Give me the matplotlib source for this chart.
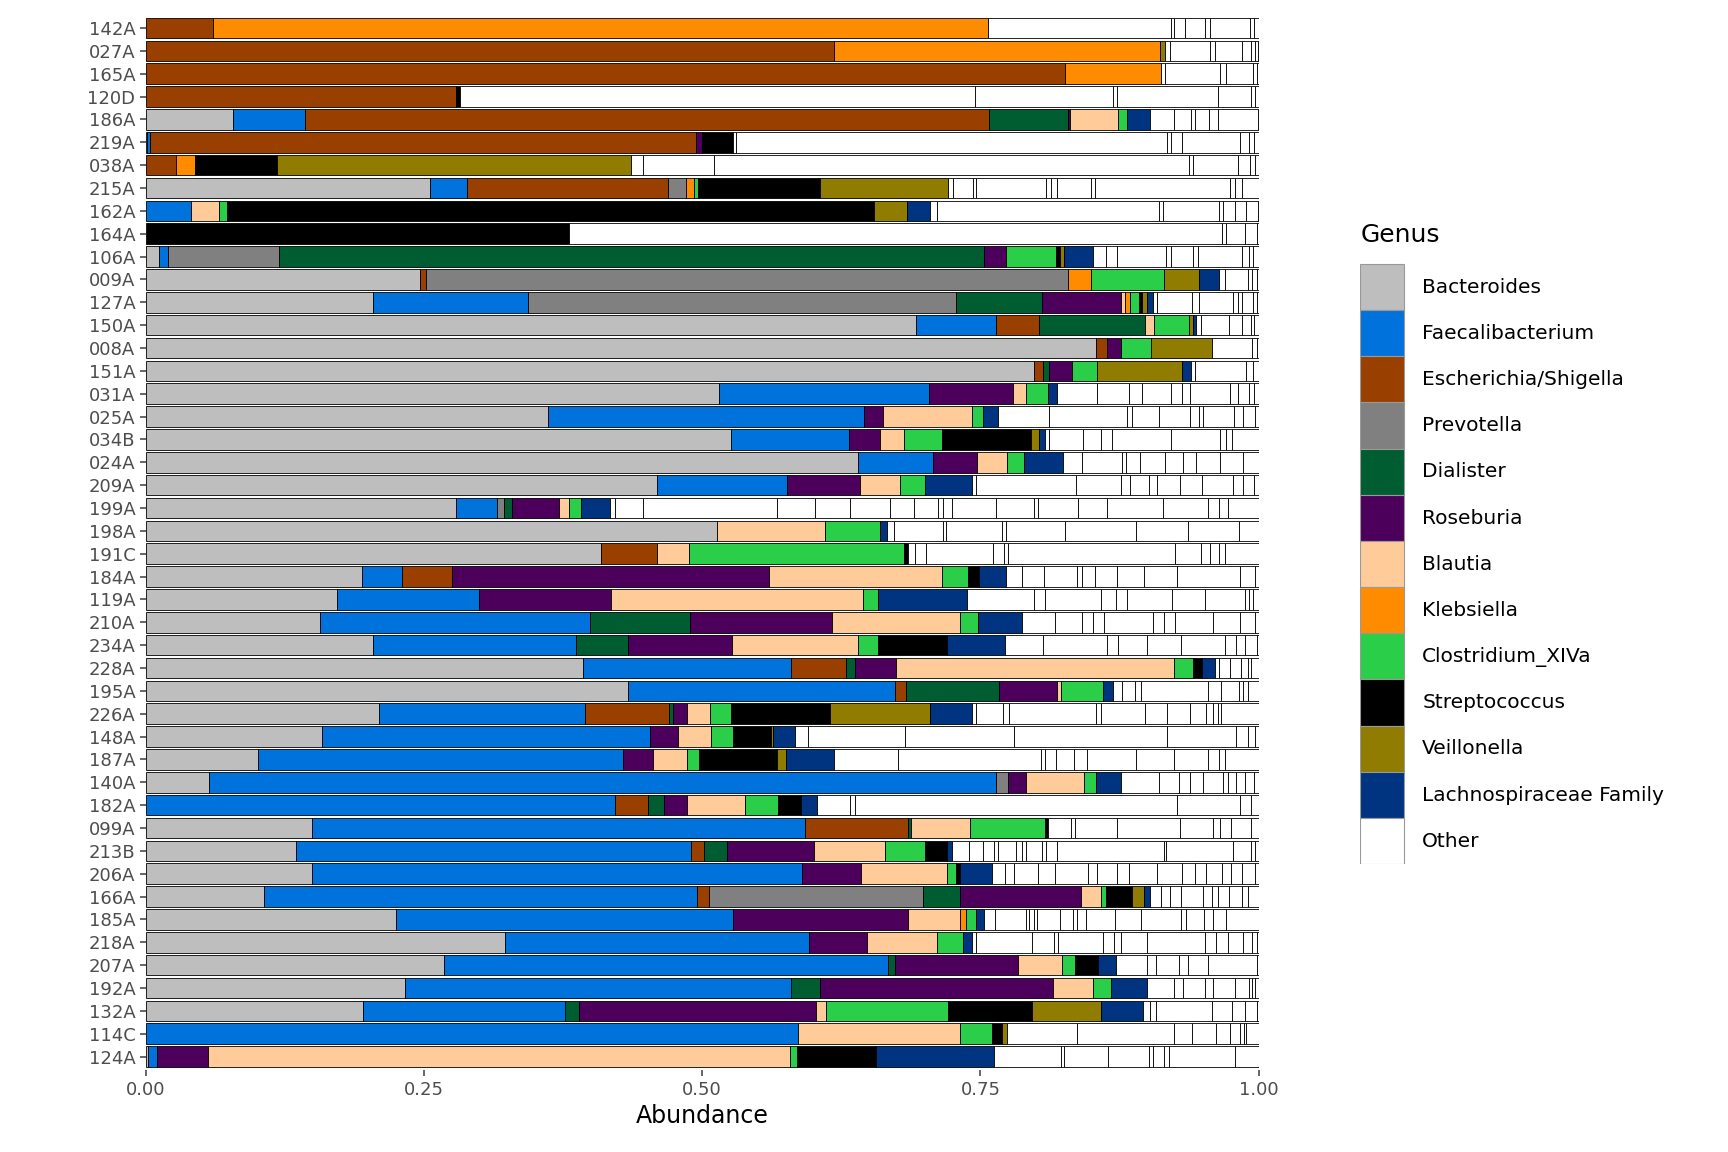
import matplotlib.pyplot as plt
from matplotlib.patches import Rectangle

samples = ['142A', '027A', '165A', '120D', '186A', '219A', '038A', '215A', '162A', '164A',
           '106A', '009A', '127A', '150A', '008A', '151A', '031A', '025A', '034B', '024A',
           '209A', '199A', '198A', '191C', '184A', '119A', '210A', '234A', '228A', '195A',
           '226A', '148A', '187A', '140A', '182A', '099A', '213B', '206A', '166A', '185A',
           '218A', '207A', '192A', '132A', '114C', '124A']

genera = ['Bacteroides', 'Faecalibacterium', 'Escherichia/Shigella', 'Prevotella', 'Dialister',
          'Roseburia', 'Blautia', 'Klebsiella', 'Clostridium_XIVa', 'Streptococcus',
          'Veillonella', 'Lachnospiraceae Family', 'Other']

colors = ['#bebebe', '#0072db', '#993f00', '#808080', '#005c31', '#4c005c', '#ffcc99',
          '#ff8c00', '#2bce48', '#000000', '#8f7c00', '#003380', '#ffffff']

# abundance per genus, order as in `genera` (without Other)
#           Bac    Fae    Esc    Pre    Dia    Ros    Bla    Kle    Clo    Str    Vei    Lac
abund = {
    '142A': [0,     0,     0.060, 0,     0,     0,     0,     0.697, 0,     0,     0,     0],
    '027A': [0,     0,     0.618, 0,     0,     0,     0,     0.293, 0,     0,     0.005, 0],
    '165A': [0,     0,     0.826, 0,     0,     0,     0,     0.086, 0,     0,     0,     0],
    '120D': [0,     0,     0.279, 0,     0,     0,     0,     0,     0,     0.003, 0,     0],
    '186A': [0.078, 0.065, 0.615, 0,     0.071, 0.001, 0.044, 0,     0.008, 0,     0,     0.020],
    '219A': [0.001, 0.003, 0.490, 0,     0,     0.006, 0,     0,     0,     0.028, 0,     0],
    '038A': [0,     0,     0.027, 0,     0,     0,     0,     0.017, 0,     0.074, 0.318, 0],
    '215A': [0.255, 0.034, 0.180, 0.016, 0,     0,     0,     0.008, 0.003, 0.110, 0.115, 0],
    '162A': [0,     0.041, 0,     0,     0,     0,     0.025, 0,     0.007, 0.581, 0.030, 0.021],
    '164A': [0,     0,     0.001, 0,     0,     0,     0,     0,     0,     0.379, 0,     0],
    '106A': [0.012, 0.008, 0,     0.100, 0.633, 0.020, 0,     0,     0.045, 0.003, 0.004, 0.026],
    '009A': [0.246, 0,     0.006, 0.577, 0,     0,     0,     0.020, 0.066, 0,     0.031, 0.018],
    '127A': [0.204, 0.139, 0,     0.385, 0.077, 0.071, 0.004, 0.004, 0.008, 0.003, 0.005, 0.005],
    '150A': [0.692, 0.072, 0.039, 0,     0.095, 0,     0.008, 0,     0.031, 0,     0.004, 0.003],
    '008A': [0.854, 0,     0.010, 0,     0,     0.012, 0,     0,     0.027, 0,     0.055, 0],
    '151A': [0.798, 0,     0.008, 0,     0.006, 0.020, 0,     0,     0.023, 0,     0.076, 0.008],
    '031A': [0.515, 0.189, 0,     0,     0,     0.075, 0.012, 0,     0.020, 0,     0,     0.008],
    '025A': [0.361, 0.284, 0,     0,     0,     0.017, 0.080, 0,     0.010, 0,     0,     0.014],
    '034B': [0.526, 0.106, 0,     0,     0,     0.028, 0.021, 0,     0.034, 0.080, 0.008, 0.005],
    '024A': [0.640, 0.067, 0,     0,     0,     0.040, 0.027, 0,     0.015, 0,     0,     0.035],
    '209A': [0.459, 0.117, 0,     0,     0,     0.066, 0.036, 0,     0.022, 0,     0,     0.042],
    '199A': [0.279, 0.037, 0,     0.006, 0.007, 0.042, 0.009, 0,     0.011, 0,     0,     0.026],
    '198A': [0.513, 0,     0,     0,     0,     0,     0.097, 0,     0.050, 0,     0,     0.006],
    '191C': [0.409, 0,     0.050, 0,     0,     0,     0.029, 0,     0.193, 0.004, 0,     0],
    '184A': [0.194, 0.036, 0.045, 0,     0,     0.285, 0.155, 0,     0.024, 0.010, 0,     0.024],
    '119A': [0.172, 0.127, 0,     0,     0,     0.119, 0.226, 0,     0.014, 0,     0,     0.080],
    '210A': [0.157, 0.242, 0,     0,     0.090, 0.128, 0.115, 0,     0.016, 0,     0,     0.039],
    '234A': [0.204, 0.183, 0,     0,     0.046, 0.094, 0.113, 0,     0.018, 0.062, 0,     0.052],
    '228A': [0.393, 0.187, 0.049, 0,     0.008, 0.037, 0.250, 0,     0.017, 0.008, 0,     0.012],
    '195A': [0.433, 0.240, 0.010, 0,     0.084, 0.052, 0.003, 0,     0.038, 0,     0,     0.009],
    '226A': [0.210, 0.185, 0.075, 0,     0.004, 0.012, 0.021, 0,     0.019, 0.089, 0.090, 0.037],
    '148A': [0.158, 0.295, 0,     0,     0,     0.025, 0.030, 0,     0.020, 0.034, 0.002, 0.019],
    '187A': [0.101, 0.328, 0,     0,     0,     0.027, 0.030, 0,     0.011, 0.070, 0.008, 0.043],
    '140A': [0.057, 0.707, 0,     0.011, 0,     0.016, 0.052, 0,     0.011, 0,     0,     0.022],
    '182A': [0,     0.422, 0.029, 0,     0.015, 0.020, 0.052, 0,     0.030, 0.021, 0,     0.014],
    '099A': [0.149, 0.443, 0.093, 0,     0.003, 0,     0.053, 0,     0.067, 0.003, 0,     0],
    '213B': [0.135, 0.355, 0.012, 0,     0.020, 0.078, 0.064, 0,     0.036, 0.020, 0,     0.004],
    '206A': [0.149, 0.441, 0,     0,     0,     0.053, 0.077, 0,     0.008, 0.004, 0,     0.028],
    '166A': [0.106, 0.389, 0.011, 0.192, 0.034, 0.108, 0.018, 0,     0.005, 0.023, 0.011, 0.005],
    '185A': [0.225, 0.303, 0,     0,     0,     0.157, 0.047, 0.005, 0.009, 0,     0,     0.007],
    '218A': [0.323, 0.273, 0,     0,     0,     0.052, 0.063, 0,     0.023, 0,     0,     0.008],
    '207A': [0.268, 0.399, 0,     0,     0.006, 0.111, 0.039, 0,     0.012, 0.021, 0,     0.016],
    '192A': [0.233, 0.347, 0,     0,     0.026, 0.209, 0.036, 0,     0.016, 0,     0,     0.033],
    '132A': [0.195, 0.182, 0,     0,     0.012, 0.213, 0.009, 0,     0.110, 0.075, 0.062, 0.038],
    '114C': [0,     0.586, 0,     0,     0,     0,     0.146, 0,     0.028, 0.009, 0.005, 0],
    '124A': [0.002, 0.008, 0,     0,     0,     0.046, 0.523, 0,     0.006, 0.071, 0,     0.106],
}

# the many small genera lumped as "Other" (white pieces), read left to right
other = {
    '142A': [0.164, 0.003, 0.010, 0.018, 0.004, 0.036, 0.004, 0.004, 0.002],
    '027A': [0.004, 0.036, 0.005, 0.024, 0.008, 0.004, 0.002],
    '165A': [0.004, 0.049, 0.006, 0.024, 0.003],
    '120D': [0.463, 0.124, 0.004, 0.090, 0.030, 0.004, 0.003],
    '186A': [0.022, 0.015, 0.004, 0.012, 0.008, 0.036, 0.004, 0.014],
    '219A': [0.002, 0.388, 0.003, 0.010, 0.052, 0.008, 0.005, 0.004],
    '038A': [0.011, 0.064, 0.426, 0.004, 0.040, 0.011, 0.005, 0.003],
    '215A': [0.004, 0.018, 0.003, 0.063, 0.004, 0.006, 0.030, 0.004, 0.121, 0.005, 0.006],
    '162A': [0.006, 0.199, 0.004, 0.050, 0.004, 0.011, 0.010, 0.010, 0.004],
    '164A': [0.587, 0.004, 0.017, 0.010, 0.003],
    '106A': [0.012, 0.010, 0.044, 0.004, 0.020, 0.004, 0.040, 0.006, 0.004],
    '009A': [0.006, 0.020, 0.004, 0.004, 0.002, 0.003],
    '127A': [0.004, 0.031, 0.006, 0.031, 0.004, 0.004, 0.010, 0.003, 0.002],
    '150A': [0.004, 0.025, 0.012, 0.008, 0.003, 0.004],
    '008A': [0.036, 0.004, 0.002],
    '151A': [0.004, 0.046, 0.006, 0.010, 0.004, 0.002, 0.003, 0.003],
    '031A': [0.036, 0.028, 0.012, 0.026, 0.010, 0.007, 0.036, 0.007, 0.010, 0.005, 0.006],
    '025A': [0.046, 0.070, 0.004, 0.024, 0.028, 0.008, 0.004, 0.028, 0.008, 0.011, 0.007],
    '034B': [0.004, 0.030, 0.016, 0.010, 0.053, 0.044, 0.006, 0.005],
    '024A': [0.017, 0.036, 0.004, 0.012, 0.023, 0.016, 0.012, 0.021, 0.021, 0.030, 0.004],
    '209A': [0.004, 0.090, 0.040, 0.008, 0.017, 0.008, 0.020, 0.020, 0.028, 0.009, 0.010],
    '199A': [0.005, 0.025, 0.120, 0.034, 0.032, 0.036, 0.021, 0.022, 0.004, 0.008, 0.040,
             0.034, 0.004, 0.036, 0.026, 0.050, 0.040, 0.010, 0.008],
    '198A': [0.006, 0.044, 0.003, 0.050, 0.004, 0.053, 0.064, 0.046, 0.046, 0.040, 0.030, 0.005],
    '191C': [0.006, 0.010, 0.060, 0.010, 0.004, 0.150, 0.023, 0.008, 0.008, 0.006],
    '184A': [0.014, 0.020, 0.030, 0.004, 0.012, 0.020, 0.024, 0.030, 0.056, 0.014, 0.006, 0.004],
    '119A': [0.060, 0.010, 0.050, 0.014, 0.010, 0.040, 0.030, 0.036, 0.003, 0.004, 0.005],
    '210A': [0.030, 0.024, 0.010, 0.010, 0.044, 0.010, 0.010, 0.034, 0.024, 0.014, 0.020, 0.006],
    '234A': [0.034, 0.058, 0.010, 0.026, 0.030, 0.040, 0.010, 0.008, 0.010, 0.006],
    '228A': [0.003, 0.010, 0.010, 0.006, 0.003],
    '195A': [0.008, 0.012, 0.005, 0.060, 0.012, 0.016, 0.004, 0.004],
    '226A': [0.004, 0.024, 0.006, 0.078, 0.004, 0.040, 0.020, 0.020, 0.015, 0.006, 0.004, 0.003],
    '148A': [0.012, 0.087, 0.098, 0.138, 0.062, 0.010, 0.007, 0.010, 0.005, 0.004],
    '187A': [0.058, 0.128, 0.004, 0.010, 0.016, 0.012, 0.044, 0.034, 0.030, 0.010, 0.006],
    '140A': [0.034, 0.018, 0.010, 0.012, 0.018, 0.004, 0.008, 0.008, 0.008, 0.004],
    '182A': [0.030, 0.004, 0.290, 0.056, 0.010, 0.018, 0.018, 0.010],
    '099A': [0.020, 0.004, 0.038, 0.056, 0.030, 0.006, 0.010, 0.018, 0.008],
    '213B': [0.016, 0.012, 0.010, 0.004, 0.016, 0.005, 0.004, 0.014, 0.004, 0.010, 0.096,
             0.002, 0.060, 0.016, 0.004],
    '206A': [0.012, 0.008, 0.022, 0.015, 0.030, 0.008, 0.018, 0.010, 0.026, 0.022, 0.012,
             0.010, 0.014, 0.008, 0.010, 0.012],
    '166A': [0.010, 0.008, 0.010, 0.020, 0.008, 0.005, 0.010, 0.012, 0.005],
    '185A': [0.010, 0.028, 0.003, 0.004, 0.003, 0.020, 0.012, 0.004, 0.008, 0.026, 0.023,
             0.036, 0.005, 0.016, 0.008, 0.012, 0.036, 0.010, 0.007],
    '218A': [0.004, 0.050, 0.020, 0.004, 0.040, 0.010, 0.006, 0.024, 0.052, 0.010, 0.010,
             0.014, 0.008, 0.004],
    '207A': [0.028, 0.008, 0.020, 0.008, 0.018, 0.044, 0.016, 0.014, 0.020, 0.006],
    '192A': [0.024, 0.008, 0.020, 0.007, 0.020, 0.012, 0.003, 0.003],
    '132A': [0.006, 0.006, 0.050, 0.018, 0.012, 0.010, 0.002],
    '114C': [0.063, 0.087, 0.016, 0.022, 0.012, 0.009, 0.004, 0.002],
    '124A': [0.060, 0.003, 0.040, 0.036, 0.004, 0.010, 0.004, 0.060, 0.027, 0.004, 0.005],
}

W, H = 1565, 1043
fig = plt.figure(figsize=(17.28, 11.52), dpi=100)
ax = fig.add_axes([132 / W, 1 - 969 / H, (1140 - 132) / W, (969 - 13) / H])

n = len(samples)
for i, s in enumerate(samples):
    y = n - 1 - i
    left = 0.0
    for g, v in enumerate(abund[s]):
        if v > 0:
            ax.barh(y, v, left=left, height=0.9, color=colors[g],
                    edgecolor='black', linewidth=0.6)
            left += v
    pieces = list(other[s])
    rest = 1 - left - sum(pieces)
    if rest > 0:
        pieces.append(rest)
    for v in pieces:
        ax.barh(y, v, left=left, height=0.9, color='white',
                edgecolor='black', linewidth=0.6)
        left += v

ax.set_xlim(0, 1)
ax.set_ylim(-0.6, n - 0.4)
ax.set_yticks(range(n))
ax.set_yticklabels(samples[::-1])
ax.set_xticks([0, 0.25, 0.5, 0.75, 1.0])
ax.set_xticklabels(['0.00', '0.25', '0.50', '0.75', '1.00'])
ax.tick_params(labelsize=13, colors='#4d4d4d', length=4, width=1.2)
ax.set_xlabel('Abundance', fontsize=17)
for sp in ax.spines.values():
    sp.set_visible(False)

# legend drawn as its own axes
lax = fig.add_axes([1232 / W, 1 - 782 / H, 330 / W, (782 - 196) / H])
lax.set_xlim(0, 330)
lax.set_ylim(586, 0)
lax.axis('off')
lax.text(0, 17, 'Genus', fontsize=18, va='center')
for k, (g, c) in enumerate(zip(genera, colors)):
    y0 = 43 + k * 41.8
    lax.add_patch(Rectangle((0, y0), 40, 41.8, facecolor=c, edgecolor='#999999', linewidth=0.8))
    lax.text(56, y0 + 21, g, fontsize=14.5, va='center')

fig.savefig('out.png', dpi=100)
